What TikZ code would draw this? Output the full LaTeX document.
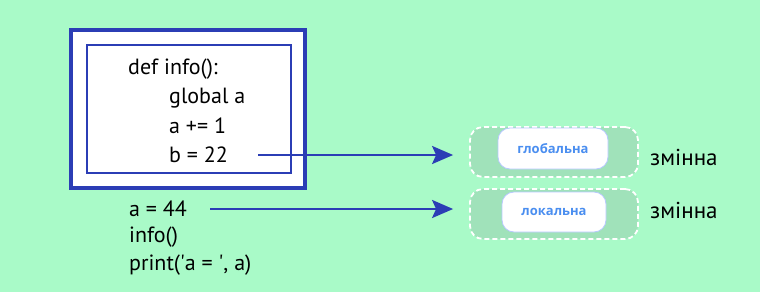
\documentclass[tikz,border=0pt]{standalone}
\usepackage{fontspec}
\setmainfont{PT Sans}
\newfontfamily\lblfont{Open Sans}
\usetikzlibrary{arrows.meta}
\definecolor{bg}{HTML}{A9FAC8}
\definecolor{frame}{HTML}{2B3DB5}
\definecolor{pill}{HTML}{A0E2BA}
\definecolor{pillborder}{HTML}{B8C8FF}
\definecolor{lbl}{HTML}{4A8EF0}
\begin{document}
\begin{tikzpicture}[x=1pt,y=-1pt,
  code/.style={anchor=west,inner sep=0pt,font=\fontsize{22}{24}\selectfont,text=black},
  conn/.style={draw=frame,line width=2.5pt,-{Stealth[length=21pt,width=18pt,inset=4pt]}},
  pillbox/.style={draw=white,dash pattern=on 5pt off 3pt,line width=1.8pt,fill=pill,rounded corners=13pt},
  whitebox/.style={draw=pillborder,line width=0.8pt,fill=white,rounded corners=12pt},
  lab/.style={font=\lblfont\fontsize{13}{15}\selectfont\bfseries,text=lbl},
  word/.style={anchor=west,inner sep=0pt,font=\fontsize{23}{25}\selectfont}]
\fill[bg] (0,0) rectangle (760,292);
\useasboundingbox (0,0) rectangle (760,292);
% frames
\draw[frame,line width=4pt,fill=white] (71,30) rectangle (305,188);
\draw[frame,line width=2.5pt] (87,45) rectangle (291,173);
% code
\node[code] (l1) at (128,69) {def info():};
\node[code] (l2) at (169,98) {global a};
\node[code] (l3) at (169,126) {a += 1};
\node[code] (l4) at (169,155) {b = 22};
\node[code] (l5) at (129,209) {a = 44};
\node[code] (l6) at (129,237) {info()};
\node[code] (l7) at (129,265) {print(\textquotesingle a = \textquotesingle, a)};
% pills
\node[pillbox,minimum width=168pt,minimum height=50pt] (p1) at (554,152) {};
\node[whitebox,minimum width=110pt,minimum height=41pt,lab] (w1) at (553,148.5) {глобальна};
\node[pillbox,minimum width=168pt,minimum height=50pt] (p2) at (554,214) {};
\node[whitebox,minimum width=104pt,minimum height=40pt,lab] (w2) at (554,212) {локальна};
\node[word] (z1) at (650,157) {змінна};
\node[word] (z2) at (650,210) {змінна};
% connectors
\coordinate (s1) at (258,155);
\coordinate (s2) at (210,209);
\draw[conn] (s1) -- ([xshift=-16pt]s1 -| p1.west);
\draw[conn] (s2) -- ([xshift=-16pt]s2 -| p2.west);
\end{tikzpicture}
\end{document}
